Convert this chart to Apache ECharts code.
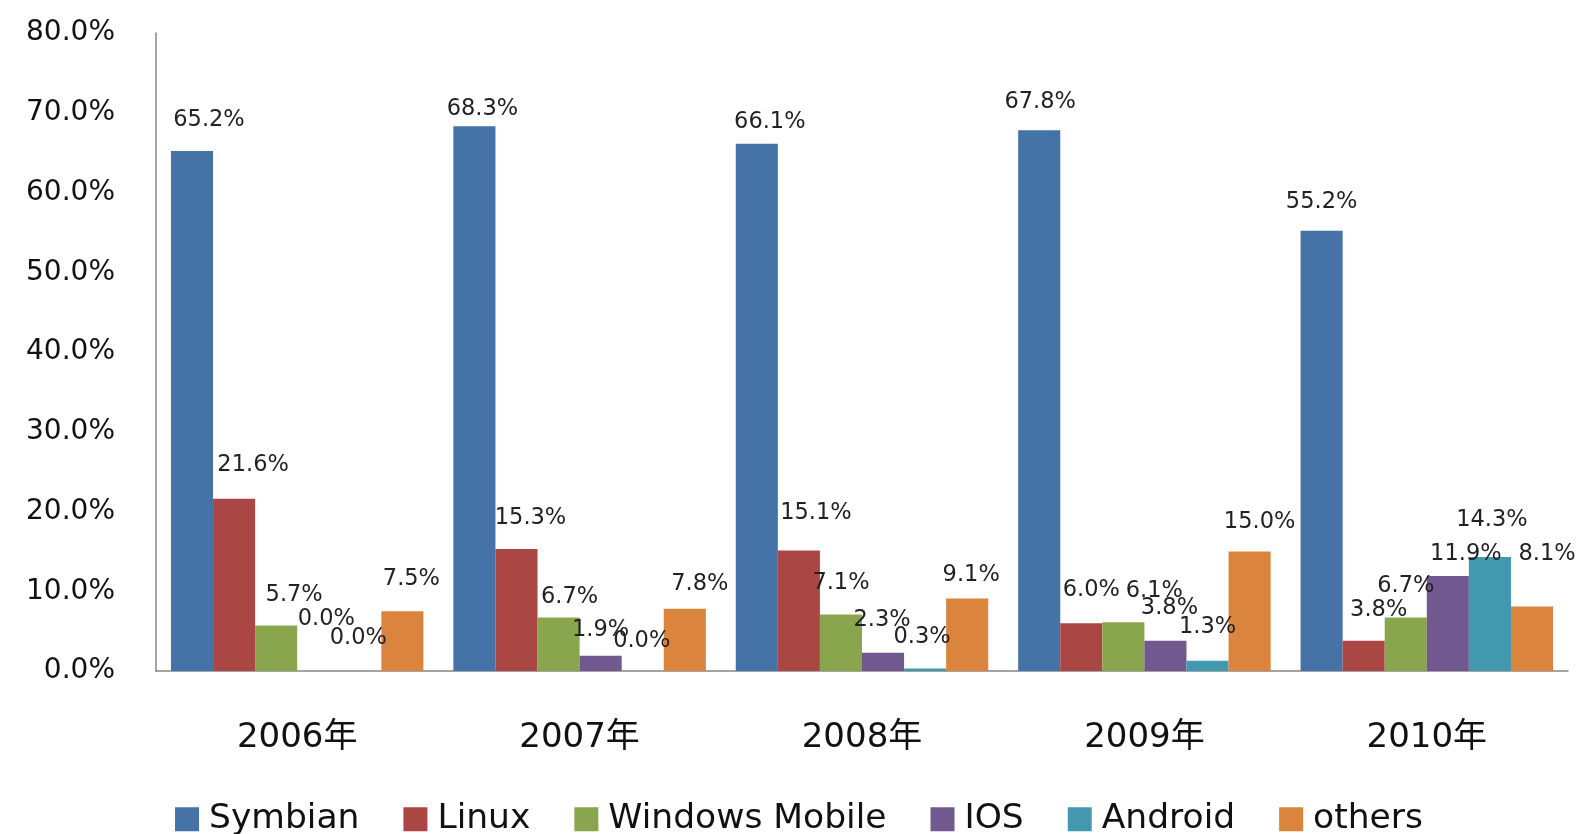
<!DOCTYPE html>
<html>
<head>
<meta charset="utf-8">
<script src="https://cdn.jsdelivr.net/npm/echarts@6/dist/echarts.min.js"></script>
<style>
html,body{margin:0;padding:0;background:#fff;}
#chart{width:1581px;height:834px;}
</style>
</head>
<body>
<div id="chart"></div>
<script>
var categories = ['2006年', '2007年', '2008年', '2009年', '2010年'];
var seriesNames = ['Symbian', 'Linux', 'Windows Mobile', 'IOS', 'Android', 'others'];
var symbian = [65.2, 68.3, 66.1, 67.8, 55.2];
var linux = [21.6, 15.3, 15.1, 6.0, 3.8];
var windowsMobile = [5.7, 6.7, 7.1, 6.1, 6.7];
var ios = [0.0, 1.9, 2.3, 3.8, 11.9];
var android = [0.0, 0.0, 0.3, 1.3, 14.3];
var others = [7.5, 7.8, 9.1, 15.0, 8.1];
var yTicks = [0, 10, 20, 30, 40, 50, 60, 70, 80];

var colors = ['#4572A7', '#AA4643', '#89A54E', '#71588F', '#4198AF', '#DB843D'];
// label placement (style): [dx, dy] of label centre relative to bar top centre
var labelOffsets = [
  [[17,-31],[8,-17],[13,-22],[1,-28],[0,-29]],
  [[19,-34],[14,-31],[17,-37],[10,-33],[15,-31]],
  [[18,-30],[11,-20],[0,-31],[31,-31],[0,-31]],
  [[8,-52],[0,-26],[-1,-33],[4,-33],[18,-22]],
  [[-2,-33],[-1,-30],[-3,-31],[0,-33],[2,-37]],
  [[9,-32],[15,-25],[4,-23],[10,-29],[15,-52]]
];
var allValues = [symbian, linux, windowsMobile, ios, android, others];
var FONT = "'DejaVu Sans', 'Noto Sans CJK SC', sans-serif";

var series = allValues.map(function (vals, si) {
  return {
    name: seriesNames[si],
    type: 'bar',
    barGap: '0%',
    barCategoryGap: '10.6%',
    itemStyle: { color: colors[si] },
    label: {
      show: true,
      position: 'top',
      distance: 0,
      verticalAlign: 'middle',
      fontFamily: FONT,
      fontSize: 22.5,
      color: '#222',
      formatter: function (p) { return p.value.toFixed(1) + '%'; }
    },
    data: vals.map(function (v, i) {
      return { value: v, label: { offset: labelOffsets[si][i] } };
    })
  };
});

var chart = echarts.init(document.getElementById('chart'));
chart.setOption({
  animation: false,
  backgroundColor: '#fff',
  color: colors,
  grid: { left: 156, right: 13, top: 33, bottom: 163, containLabel: false },
  legend: {
    data: seriesNames,
    left: 170,
    top: 797,
    icon: 'rect',
    itemWidth: 24,
    itemHeight: 24,
    itemGap: 44,
    textStyle: { fontFamily: FONT, fontSize: 34.5, color: '#111', padding: [0, 0, 0, 5] }
  },
  xAxis: {
    type: 'category',
    data: categories,
    axisTick: { show: false },
    axisLine: { show: true, lineStyle: { color: '#868686', width: 1.5 } },
    axisLabel: { fontFamily: FONT, fontSize: 34, color: '#111', margin: 50 }
  },
  yAxis: {
    type: 'value',
    min: yTicks[0],
    max: yTicks[yTicks.length - 1],
    interval: yTicks[1] - yTicks[0],
    axisTick: { show: false },
    splitLine: { show: false },
    axisLine: { show: true, lineStyle: { color: '#868686', width: 1.5 } },
    axisLabel: {
      fontFamily: FONT, fontSize: 28, color: '#111', margin: 41,
      formatter: function (v) { return v.toFixed(1) + '%'; }
    }
  },
  series: series
});
</script>
</body>
</html>
